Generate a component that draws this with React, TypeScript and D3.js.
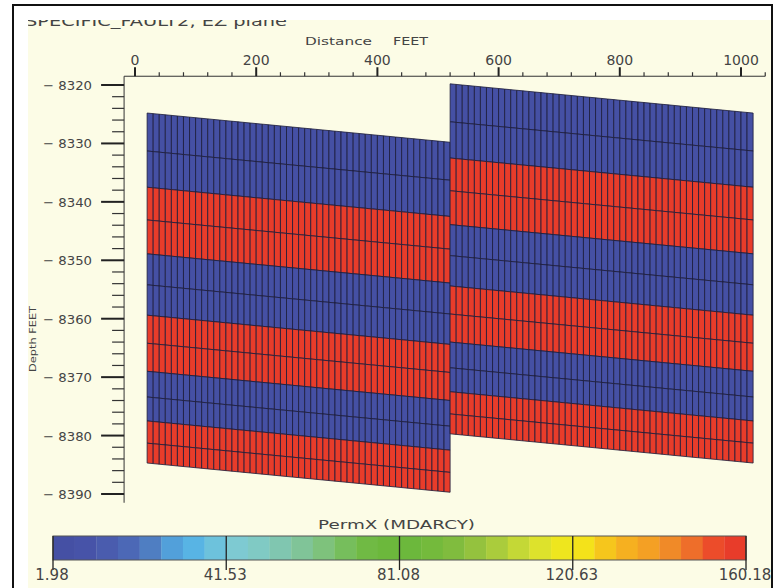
import React from "react";
import * as d3 from "d3";

// ---- data ----
const titleText = "SPECIFIC_FAULT2, EZ plane";
const xTickValues = [0, 200, 400, 600, 800, 1000];
const xMinorStep = 40;
const yTickValues = [-8320, -8330, -8340, -8350, -8360, -8370, -8380, -8390];
const yMinorStep = 2;
// fault blocks: left edge distance (ft), depth shift (ft)
const blockStarts = [20, 520];
const blockShifts = [0, 5];
const blockWidth = 500;
const columnWidth = 10;
const dipPerFoot = 0.01; // ft of depth per ft of distance
// layer boundaries at the left edge of the first block (ft)
const layerBoundaries = [-8324.8, -8331.3, -8337.5, -8343.1, -8348.9, -8354.2, -8359.4, -8364.2, -8369.0, -8373.4, -8377.5, -8381.3, -8384.7];
const layerPerm = [1.98, 1.98, 160.18, 160.18, 1.98, 1.98, 160.18, 160.18, 1.98, 1.98, 160.18, 160.18];
const permTicks = [1.98, 41.53, 81.08, 120.63, 160.18];
const permColors = [
  "#4550a4", "#4753a8", "#4a5cae", "#4c68b6", "#4f7ec2", "#52a0da", "#58b4e4", "#6dc2dc",
  "#7ecad2", "#80cac4", "#80c6b0", "#80c498", "#7ec27c", "#76be5c", "#70ba44", "#6cb83c",
  "#6cb83c", "#74ba3c", "#80bc3e", "#94c23e", "#aacc3c", "#c4d836", "#dde22c", "#eee61e",
  "#f4e21a", "#f6c61c", "#f6b020", "#f4a024", "#f08a28", "#ee6e2a", "#ec4c2a", "#e83c2a",
];

const FONT = "'DejaVu Sans', sans-serif";
const TXT = "#444";

export default function App() {
  const x = d3.scaleLinear().domain([0, 1000]).range([135, 741]);
  const y = d3.scaleLinear().domain([-8320, -8390]).range([85, 494]);
  const color = d3.scaleQuantize<string>().domain([1.98, 160.18]).range(permColors);
  const cb = d3.scaleLinear().domain([1.98, 160.18]).range([53, 746]);

  const xMinor = d3.range(0, 1041, xMinorStep).filter((v) => v % 200 !== 0);
  const yMinor = d3.range(-8320, -8391, -yMinorStep).filter((v) => v % 10 !== 0);

  const cells: { pts: string; fill: string; key: string }[] = [];
  blockStarts.forEach((sx, b) => {
    const shift = blockShifts[b];
    const nCols = Math.round(blockWidth / columnWidth);
    for (let i = 0; i < layerPerm.length; i++) {
      const top = layerBoundaries[i] + shift;
      const bot = layerBoundaries[i + 1] + shift;
      for (let c = 0; c < nCols; c++) {
        const x0 = sx + c * columnWidth;
        const x1 = x0 + columnWidth;
        const d = (base: number, xv: number) => base - dipPerFoot * (xv - sx);
        const pts = [
          [x(x0), y(d(top, x0))],
          [x(x1), y(d(top, x1))],
          [x(x1), y(d(bot, x1))],
          [x(x0), y(d(bot, x0))],
        ]
          .map((p) => p.join(","))
          .join(" ");
        cells.push({ pts, fill: color(layerPerm[i]), key: `${b}-${i}-${c}` });
      }
    }
  });

  const stepW = (cb.range()[1] - cb.range()[0]) / permColors.length;
  const axLeft = x(-18);
  const axRight = x(1040);
  const axTop = y(-8318.5);
  const axBottom = y(-8391.5);

  return (
    <svg
      width={774}
      height={588}
      style={{ position: "fixed", left: 0, top: 0, background: "#fff" }}
      fontFamily={FONT}
    >
      <defs>
        <clipPath id="panel">
          <rect x={28} y={20} width={744} height={568} />
        </clipPath>
      </defs>
      {/* outer frame */}
      <rect x={0} y={0} width={774} height={588} fill="#fff" />
      <path d="M13,588 V5 H772 V588" fill="none" stroke="#111" strokeWidth={2} />
      <rect x={28} y={20} width={743} height={568} fill="#fcfce6" />

      <g clipPath="url(#panel)">
        <text x={25} y={26} fontSize={14} fill={TXT} textLength={262} lengthAdjust="spacingAndGlyphs">
          {titleText}
        </text>
      </g>

      {/* top axis */}
      <text x={305} y={45} fontSize={11} fill={TXT} textLength={67} lengthAdjust="spacingAndGlyphs">Distance</text>
      <text x={393} y={45} fontSize={11} fill={TXT} textLength={35} lengthAdjust="spacingAndGlyphs">FEET</text>
      <line x1={axLeft} x2={axRight} y1={axTop} y2={axTop} stroke="#333" strokeWidth={1} />
      {xTickValues.map((v) => (
        <g key={`xt${v}`}>
          <line x1={x(v)} x2={x(v)} y1={axTop} y2={axTop - 9} stroke="#222" strokeWidth={2} />
          <text x={x(v)} y={65} fontSize={14} fill={TXT} textAnchor="middle">{v}</text>
        </g>
      ))}
      {xMinor.map((v) => (
        <line key={`xm${v}`} x1={x(v)} x2={x(v)} y1={axTop} y2={axTop - 4} stroke="#333" strokeWidth={1.2} />
      ))}

      {/* left axis */}
      <line x1={axLeft} x2={axLeft} y1={axTop} y2={axBottom} stroke="#333" strokeWidth={1} />
      {yTickValues.map((v) => (
        <g key={`yt${v}`}>
          <line x1={axLeft - 23} x2={axLeft} y1={y(v)} y2={y(v)} stroke="#222" strokeWidth={2} />
          <text x={92} y={y(v) + 5} fontSize={13} fill={TXT} textAnchor="end" textLength={49} lengthAdjust="spacingAndGlyphs">
            {"\u2212 " + Math.abs(v)}
          </text>
        </g>
      ))}
      {yMinor.map((v) => (
        <line key={`ym${v}`} x1={axLeft - 12} x2={axLeft} y1={y(v)} y2={y(v)} stroke="#333" strokeWidth={1.2} />
      ))}
      <text
        transform={`translate(36,339) rotate(-90)`}
        fontSize={9}
        fill={TXT}
        textAnchor="middle"
        textLength={66}
        lengthAdjust="spacingAndGlyphs"
      >
        Depth  FEET
      </text>

      {/* grid cells */}
      <g>
        {cells.map((c) => (
          <polygon key={c.key} points={c.pts} fill={c.fill} stroke="#1c1c3a" strokeWidth={0.8} />
        ))}
      </g>

      {/* colour bar */}
      <text x={318} y={529} fontSize={13} fill={TXT} textLength={157} lengthAdjust="spacingAndGlyphs">PermX (MDARCY)</text>
      {permColors.map((c, i) => (
        <rect key={`cb${i}`} x={cb.range()[0] + i * stepW} y={536} width={stepW + 0.3} height={24} fill={c} />
      ))}
      <rect x={cb.range()[0]} y={536} width={cb.range()[1] - cb.range()[0]} height={24} fill="none" stroke="#555" strokeWidth={1} />
      {permTicks.map((v) => (
        <g key={`pt${v}`}>
          <line x1={cb(v)} x2={cb(v)} y1={536} y2={570} stroke="#222" strokeWidth={1.3} />
          <text x={cb(v) - 1} y={580} fontSize={15} fill={TXT} textAnchor="middle">{v.toFixed(2)}</text>
        </g>
      ))}
    </svg>
  );
}
